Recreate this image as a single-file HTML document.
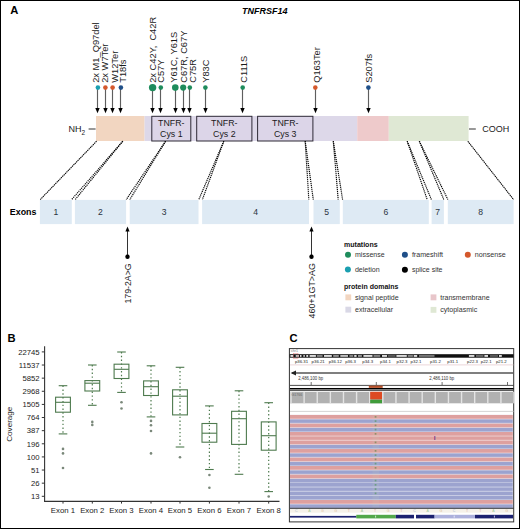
<!DOCTYPE html>
<html><head><meta charset="utf-8"><title>TNFRSF14</title>
<style>
html,body{margin:0;padding:0;background:#fff;}
body{width:520px;height:529px;overflow:hidden;}
svg{display:block;font-family:"Liberation Sans", sans-serif;}
</style></head><body>
<svg width="520" height="529" viewBox="0 0 520 529">
<rect x="0" y="0" width="520" height="529" fill="#fff"/>
<text x="10.3" y="14.2" font-size="11.2" text-anchor="start" font-weight="bold" font-style="normal" fill="#000" >A</text>
<text x="242.0" y="14.3" font-size="9.6" text-anchor="start" font-weight="bold" font-style="italic" fill="#000"  textLength="45.6" lengthAdjust="spacingAndGlyphs">TNFRSF14</text>
<line x1="97.5" y1="87.6" x2="97.5" y2="109" stroke="#5e5e5e" stroke-width="1.15"/>
<path d="M95.3,108 L99.7,108 L97.5,113.3 Z" fill="#000"/>
<circle cx="97.9" cy="87.6" r="2.3" fill="#1a9fb0"/>
<text transform="translate(99.2,82.8) rotate(-90)" font-size="9.3" fill="#1a1a1a" text-anchor="start">2x M1_Q97del</text>
<line x1="105.5" y1="87.6" x2="105.5" y2="109" stroke="#5e5e5e" stroke-width="1.15"/>
<path d="M103.3,108 L107.7,108 L105.5,113.3 Z" fill="#000"/>
<circle cx="105.4" cy="87.6" r="2.3" fill="#d4582c"/>
<text transform="translate(108.4,82.8) rotate(-90)" font-size="9.3" fill="#1a1a1a" text-anchor="start">2x W7Ter</text>
<line x1="112.5" y1="87.6" x2="112.5" y2="109" stroke="#5e5e5e" stroke-width="1.15"/>
<path d="M110.3,108 L114.7,108 L112.5,113.3 Z" fill="#000"/>
<circle cx="112.6" cy="87.6" r="2.3" fill="#d4582c"/>
<text transform="translate(117.6,82.8) rotate(-90)" font-size="9.3" fill="#1a1a1a" text-anchor="start">W12Ter</text>
<line x1="120.5" y1="87.6" x2="120.5" y2="109" stroke="#5e5e5e" stroke-width="1.15"/>
<path d="M118.3,108 L122.7,108 L120.5,113.3 Z" fill="#000"/>
<circle cx="120.9" cy="87.6" r="2.3" fill="#1f4f88"/>
<text transform="translate(126.4,82.8) rotate(-90)" font-size="9.3" fill="#1a1a1a" text-anchor="start">T18fs</text>
<line x1="152.5" y1="87.6" x2="152.5" y2="109" stroke="#5e5e5e" stroke-width="1.15"/>
<path d="M150.3,108 L154.7,108 L152.5,113.3 Z" fill="#000"/>
<circle cx="152.6" cy="87.6" r="3.7" fill="#1e8c5c"/>
<text transform="translate(156.2,82.8) rotate(-90)" font-size="9.3" fill="#1a1a1a" text-anchor="start">2x C42Y,&#160; C42R</text>
<line x1="160.5" y1="87.6" x2="160.5" y2="109" stroke="#5e5e5e" stroke-width="1.15"/>
<path d="M158.3,108 L162.7,108 L160.5,113.3 Z" fill="#000"/>
<circle cx="160.8" cy="87.6" r="2.3" fill="#1e8c5c"/>
<text transform="translate(164.4,82.8) rotate(-90)" font-size="9.3" fill="#1a1a1a" text-anchor="start">C57Y</text>
<line x1="175.5" y1="87.6" x2="175.5" y2="109" stroke="#5e5e5e" stroke-width="1.15"/>
<path d="M173.3,108 L177.7,108 L175.5,113.3 Z" fill="#000"/>
<circle cx="175.3" cy="87.6" r="3.3" fill="#1e8c5c"/>
<text transform="translate(177.4,82.8) rotate(-90)" font-size="9.3" fill="#1a1a1a" text-anchor="start">Y61C, Y61S</text>
<line x1="183.5" y1="87.6" x2="183.5" y2="109" stroke="#5e5e5e" stroke-width="1.15"/>
<path d="M181.3,108 L185.7,108 L183.5,113.3 Z" fill="#000"/>
<circle cx="183.2" cy="87.6" r="3.1" fill="#1e8c5c"/>
<text transform="translate(187.4,82.8) rotate(-90)" font-size="9.3" fill="#1a1a1a" text-anchor="start">C67R, C67Y</text>
<line x1="189.5" y1="87.6" x2="189.5" y2="109" stroke="#5e5e5e" stroke-width="1.15"/>
<path d="M187.3,108 L191.7,108 L189.5,113.3 Z" fill="#000"/>
<circle cx="189.8" cy="87.6" r="2.3" fill="#1e8c5c"/>
<text transform="translate(196.2,82.8) rotate(-90)" font-size="9.3" fill="#1a1a1a" text-anchor="start">C75R</text>
<line x1="205.5" y1="87.6" x2="205.5" y2="109" stroke="#5e5e5e" stroke-width="1.15"/>
<path d="M203.3,108 L207.7,108 L205.5,113.3 Z" fill="#000"/>
<circle cx="205.4" cy="87.6" r="2.3" fill="#1e8c5c"/>
<text transform="translate(208.7,82.8) rotate(-90)" font-size="9.3" fill="#1a1a1a" text-anchor="start">Y83C</text>
<line x1="242.5" y1="87.6" x2="242.5" y2="109" stroke="#5e5e5e" stroke-width="1.15"/>
<path d="M240.3,108 L244.7,108 L242.5,113.3 Z" fill="#000"/>
<circle cx="242.7" cy="87.6" r="2.3" fill="#1e8c5c"/>
<text transform="translate(246.6,82.8) rotate(-90)" font-size="9.3" fill="#1a1a1a" text-anchor="start">C111S</text>
<line x1="315.5" y1="87.6" x2="315.5" y2="109" stroke="#5e5e5e" stroke-width="1.15"/>
<path d="M313.3,108 L317.7,108 L315.5,113.3 Z" fill="#000"/>
<circle cx="315.3" cy="87.6" r="2.3" fill="#d4582c"/>
<text transform="translate(320.2,82.8) rotate(-90)" font-size="9.3" fill="#1a1a1a" text-anchor="start">Q163Ter</text>
<line x1="368.5" y1="87.6" x2="368.5" y2="109" stroke="#5e5e5e" stroke-width="1.15"/>
<path d="M366.3,108 L370.7,108 L368.5,113.3 Z" fill="#000"/>
<circle cx="368.4" cy="87.6" r="2.3" fill="#1f4f88"/>
<text transform="translate(372.2,82.8) rotate(-90)" font-size="9.3" fill="#1a1a1a" text-anchor="start">S207fs</text>
<rect x="96" y="116" width="48.6" height="25" fill="#f2d6c1"/>
<rect x="144.6" y="116" width="212.6" height="25" fill="#ddd8e9"/>
<rect x="357.2" y="116" width="31.6" height="25" fill="#eecacb"/>
<rect x="388.8" y="116" width="79.8" height="25" fill="#dfe8d4"/>
<rect x="151.8" y="116.3" width="39.0" height="24.7" fill="#dcd5e8" stroke="#2e2a36" stroke-width="1.0"/>
<text x="171.3" y="126" font-size="8.8" text-anchor="middle" font-weight="normal" font-style="normal" fill="#1a1a1a" >TNFR-</text>
<text x="171.3" y="137.2" font-size="8.8" text-anchor="middle" font-weight="normal" font-style="normal" fill="#1a1a1a" >Cys 1</text>
<rect x="196.7" y="116.3" width="55.20000000000002" height="24.7" fill="#dcd5e8" stroke="#2e2a36" stroke-width="1.0"/>
<text x="224.3" y="126" font-size="8.8" text-anchor="middle" font-weight="normal" font-style="normal" fill="#1a1a1a" >TNFR-</text>
<text x="224.3" y="137.2" font-size="8.8" text-anchor="middle" font-weight="normal" font-style="normal" fill="#1a1a1a" >Cys 2</text>
<rect x="257.6" y="116.3" width="55.299999999999955" height="24.7" fill="#dcd5e8" stroke="#2e2a36" stroke-width="1.0"/>
<text x="285.25" y="126" font-size="8.8" text-anchor="middle" font-weight="normal" font-style="normal" fill="#1a1a1a" >TNFR-</text>
<text x="285.25" y="137.2" font-size="8.8" text-anchor="middle" font-weight="normal" font-style="normal" fill="#1a1a1a" >Cys 3</text>
<text x="68.5" y="132.3" font-size="9.0" text-anchor="start" font-weight="normal" font-style="normal" fill="#1a1a1a" >NH<tspan font-size="6.5" dy="2.5">2</tspan></text>
<line x1="88.6" y1="129" x2="95.6" y2="129" stroke="#444" stroke-width="1.1"/>
<line x1="469" y1="129" x2="475.8" y2="129" stroke="#444" stroke-width="1.1"/>
<text x="482.3" y="132.3" font-size="9.0" text-anchor="start" font-weight="normal" font-style="normal" fill="#1a1a1a" >COOH</text>
<line x1="96.6" y1="141.2" x2="40.2" y2="199.6" stroke="#000" stroke-width="1.05" stroke-dasharray="1.4,0.6"/>
<line x1="122.8" y1="141.2" x2="71.6" y2="199.6" stroke="#000" stroke-width="1.15" stroke-dasharray="1.2,0.8"/>
<line x1="122.8" y1="141.2" x2="75.2" y2="199.6" stroke="#000" stroke-width="1.15" stroke-dasharray="1.2,0.8"/>
<line x1="165.6" y1="141.2" x2="126.2" y2="199.6" stroke="#000" stroke-width="1.15" stroke-dasharray="1.2,0.8"/>
<line x1="165.6" y1="141.2" x2="129.8" y2="199.6" stroke="#000" stroke-width="1.15" stroke-dasharray="1.2,0.8"/>
<line x1="223.8" y1="141.2" x2="198.8" y2="199.6" stroke="#000" stroke-width="1.15" stroke-dasharray="1.2,0.8"/>
<line x1="223.8" y1="141.2" x2="202.4" y2="199.6" stroke="#000" stroke-width="1.15" stroke-dasharray="1.2,0.8"/>
<line x1="305.2" y1="141.2" x2="308.8" y2="199.6" stroke="#000" stroke-width="1.15" stroke-dasharray="1.2,0.8"/>
<line x1="305.2" y1="141.2" x2="313.3" y2="199.6" stroke="#000" stroke-width="1.15" stroke-dasharray="1.2,0.8"/>
<line x1="333.3" y1="141.2" x2="338.2" y2="199.6" stroke="#000" stroke-width="1.15" stroke-dasharray="1.2,0.8"/>
<line x1="333.3" y1="141.2" x2="342.6" y2="199.6" stroke="#000" stroke-width="1.15" stroke-dasharray="1.2,0.8"/>
<line x1="407.2" y1="141.2" x2="427.2" y2="199.6" stroke="#000" stroke-width="1.15" stroke-dasharray="1.2,0.8"/>
<line x1="407.2" y1="141.2" x2="431.4" y2="199.6" stroke="#000" stroke-width="1.15" stroke-dasharray="1.2,0.8"/>
<line x1="419.3" y1="141.2" x2="443.8" y2="199.6" stroke="#000" stroke-width="1.15" stroke-dasharray="1.2,0.8"/>
<line x1="419.3" y1="141.2" x2="447.9" y2="199.6" stroke="#000" stroke-width="1.15" stroke-dasharray="1.2,0.8"/>
<line x1="467.8" y1="141.2" x2="513.6" y2="199.6" stroke="#000" stroke-width="1.05" stroke-dasharray="1.4,0.6"/>
<rect x="39.9" y="199.9" width="31.9" height="24.2" fill="#deeaf4"/>
<text x="55.849999999999994" y="215.3" font-size="8.6" text-anchor="middle" font-weight="normal" font-style="normal" fill="#2a3340" >1</text>
<rect x="74.9" y="199.9" width="51.19999999999999" height="24.2" fill="#deeaf4"/>
<text x="100.5" y="215.3" font-size="8.6" text-anchor="middle" font-weight="normal" font-style="normal" fill="#2a3340" >2</text>
<rect x="129.7" y="199.9" width="68.80000000000001" height="24.2" fill="#deeaf4"/>
<text x="164.1" y="215.3" font-size="8.6" text-anchor="middle" font-weight="normal" font-style="normal" fill="#2a3340" >3</text>
<rect x="202.1" y="199.9" width="106.9" height="24.2" fill="#deeaf4"/>
<text x="255.55" y="215.3" font-size="8.6" text-anchor="middle" font-weight="normal" font-style="normal" fill="#2a3340" >4</text>
<rect x="313.5" y="199.9" width="26.30000000000001" height="24.2" fill="#deeaf4"/>
<text x="326.65" y="215.3" font-size="8.6" text-anchor="middle" font-weight="normal" font-style="normal" fill="#2a3340" >5</text>
<rect x="342.8" y="199.9" width="86.0" height="24.2" fill="#deeaf4"/>
<text x="385.8" y="215.3" font-size="8.6" text-anchor="middle" font-weight="normal" font-style="normal" fill="#2a3340" >6</text>
<rect x="431.6" y="199.9" width="12.299999999999955" height="24.2" fill="#deeaf4"/>
<text x="437.75" y="215.3" font-size="8.6" text-anchor="middle" font-weight="normal" font-style="normal" fill="#2a3340" >7</text>
<rect x="447.8" y="199.9" width="65.80000000000001" height="24.2" fill="#deeaf4"/>
<text x="480.70000000000005" y="215.3" font-size="8.6" text-anchor="middle" font-weight="normal" font-style="normal" fill="#2a3340" >8</text>
<text x="9.8" y="214.9" font-size="9.4" text-anchor="start" font-weight="bold" font-style="normal" fill="#000"  textLength="26.6" lengthAdjust="spacingAndGlyphs">Exons</text>
<line x1="127.5" y1="231" x2="127.5" y2="256.8" stroke="#333" stroke-width="1"/>
<path d="M125.4,231.6 L129.6,231.6 L127.5,226.5 Z" fill="#000"/>
<circle cx="127.5" cy="256.8" r="2.2" fill="#000"/>
<text transform="translate(130.7,303.6) rotate(-90)" font-size="8.7" fill="#1a1a1a" text-anchor="start" textLength="40.2" lengthAdjust="spacingAndGlyphs">179-2A&gt;G</text>
<line x1="311.5" y1="231" x2="311.5" y2="256.8" stroke="#333" stroke-width="1"/>
<path d="M309.4,231.6 L313.6,231.6 L311.5,226.5 Z" fill="#000"/>
<circle cx="311.5" cy="256.8" r="2.2" fill="#000"/>
<text transform="translate(314.7,318.5) rotate(-90)" font-size="8.7" fill="#1a1a1a" text-anchor="start" textLength="55.4" lengthAdjust="spacingAndGlyphs">460+1GT&gt;AG</text>
<text x="344.0" y="246.6" font-size="7.3" text-anchor="start" font-weight="bold" font-style="normal" fill="#111"  textLength="33.6" lengthAdjust="spacingAndGlyphs">mutations</text>
<circle cx="348" cy="254.7" r="3.0" fill="#1e8c5c"/>
<text x="355.0" y="257.3" font-size="7.4" text-anchor="start" font-weight="normal" font-style="normal" fill="#333"  textLength="29.6" lengthAdjust="spacingAndGlyphs">missense</text>
<circle cx="404.9" cy="254.7" r="3.0" fill="#1f4f88"/>
<text x="411.9" y="257.3" font-size="7.4" text-anchor="start" font-weight="normal" font-style="normal" fill="#333"  textLength="31.2" lengthAdjust="spacingAndGlyphs">frameshift</text>
<circle cx="467.8" cy="254.7" r="3.0" fill="#d4582c"/>
<text x="474.8" y="257.3" font-size="7.4" text-anchor="start" font-weight="normal" font-style="normal" fill="#333"  textLength="31.0" lengthAdjust="spacingAndGlyphs">nonsense</text>
<circle cx="347.9" cy="269.6" r="3.0" fill="#1a9fb0"/>
<text x="354.9" y="272.20000000000005" font-size="7.4" text-anchor="start" font-weight="normal" font-style="normal" fill="#333"  textLength="24.8" lengthAdjust="spacingAndGlyphs">deletion</text>
<circle cx="404.9" cy="269.7" r="3.0" fill="#000"/>
<text x="411.9" y="272.3" font-size="7.4" text-anchor="start" font-weight="normal" font-style="normal" fill="#333"  textLength="30.6" lengthAdjust="spacingAndGlyphs">splice site</text>
<text x="344.0" y="288.8" font-size="7.3" text-anchor="start" font-weight="bold" font-style="normal" fill="#111"  textLength="54.4" lengthAdjust="spacingAndGlyphs">protein domains</text>
<rect x="345.4" y="294.4" width="5.8" height="5.9" fill="#f2d6c1"/>
<text x="355.0" y="299.79999999999995" font-size="7.4" text-anchor="start" font-weight="normal" font-style="normal" fill="#333"  textLength="43.6" lengthAdjust="spacingAndGlyphs">signal peptide</text>
<rect x="345.4" y="306.7" width="5.8" height="5.9" fill="#d9d8e6"/>
<text x="355.0" y="312.09999999999997" font-size="7.4" text-anchor="start" font-weight="normal" font-style="normal" fill="#333"  textLength="38.0" lengthAdjust="spacingAndGlyphs">extracellular</text>
<rect x="430.6" y="294.4" width="5.8" height="5.9" fill="#e8c6ca"/>
<text x="440.20000000000005" y="299.79999999999995" font-size="7.4" text-anchor="start" font-weight="normal" font-style="normal" fill="#333"  textLength="49.4" lengthAdjust="spacingAndGlyphs">transmembrane</text>
<rect x="430.6" y="306.9" width="5.8" height="5.9" fill="#dfe8d4"/>
<text x="440.20000000000005" y="312.29999999999995" font-size="7.4" text-anchor="start" font-weight="normal" font-style="normal" fill="#333"  textLength="37.0" lengthAdjust="spacingAndGlyphs">cytoplasmic</text>
<text x="7.6" y="342.2" font-size="11.2" text-anchor="start" font-weight="bold" font-style="normal" fill="#000" >B</text>
<line x1="44.6" y1="346.2" x2="44.6" y2="501.9" stroke="#333" stroke-width="1.1"/>
<line x1="44.1" y1="501.4" x2="279.5" y2="501.4" stroke="#333" stroke-width="1.1"/>
<line x1="41.8" y1="351.90" x2="44.6" y2="351.90" stroke="#333" stroke-width="1"/>
<text x="39.6" y="354.7" font-size="7.7" text-anchor="end" font-weight="normal" font-style="normal" fill="#222" >22745</text>
<line x1="41.8" y1="365.03" x2="44.6" y2="365.03" stroke="#333" stroke-width="1"/>
<text x="39.6" y="367.827" font-size="7.7" text-anchor="end" font-weight="normal" font-style="normal" fill="#222" >11537</text>
<line x1="41.8" y1="378.15" x2="44.6" y2="378.15" stroke="#333" stroke-width="1"/>
<text x="39.6" y="380.954" font-size="7.7" text-anchor="end" font-weight="normal" font-style="normal" fill="#222" >5852</text>
<line x1="41.8" y1="391.28" x2="44.6" y2="391.28" stroke="#333" stroke-width="1"/>
<text x="39.6" y="394.08099999999996" font-size="7.7" text-anchor="end" font-weight="normal" font-style="normal" fill="#222" >2968</text>
<line x1="41.8" y1="404.41" x2="44.6" y2="404.41" stroke="#333" stroke-width="1"/>
<text x="39.6" y="407.20799999999997" font-size="7.7" text-anchor="end" font-weight="normal" font-style="normal" fill="#222" >1505</text>
<line x1="41.8" y1="417.53" x2="44.6" y2="417.53" stroke="#333" stroke-width="1"/>
<text x="39.6" y="420.335" font-size="7.7" text-anchor="end" font-weight="normal" font-style="normal" fill="#222" >764</text>
<line x1="41.8" y1="430.66" x2="44.6" y2="430.66" stroke="#333" stroke-width="1"/>
<text x="39.6" y="433.462" font-size="7.7" text-anchor="end" font-weight="normal" font-style="normal" fill="#222" >387</text>
<line x1="41.8" y1="443.79" x2="44.6" y2="443.79" stroke="#333" stroke-width="1"/>
<text x="39.6" y="446.589" font-size="7.7" text-anchor="end" font-weight="normal" font-style="normal" fill="#222" >196</text>
<line x1="41.8" y1="456.92" x2="44.6" y2="456.92" stroke="#333" stroke-width="1"/>
<text x="39.6" y="459.716" font-size="7.7" text-anchor="end" font-weight="normal" font-style="normal" fill="#222" >100</text>
<line x1="41.8" y1="470.04" x2="44.6" y2="470.04" stroke="#333" stroke-width="1"/>
<text x="39.6" y="472.843" font-size="7.7" text-anchor="end" font-weight="normal" font-style="normal" fill="#222" >51</text>
<line x1="41.8" y1="483.17" x2="44.6" y2="483.17" stroke="#333" stroke-width="1"/>
<text x="39.6" y="485.96999999999997" font-size="7.7" text-anchor="end" font-weight="normal" font-style="normal" fill="#222" >26</text>
<line x1="41.8" y1="496.30" x2="44.6" y2="496.30" stroke="#333" stroke-width="1"/>
<text x="39.6" y="499.09700000000004" font-size="7.7" text-anchor="end" font-weight="normal" font-style="normal" fill="#222" >13</text>
<text transform="translate(12.4,424.2) rotate(-90)" font-size="8.1" fill="#222" text-anchor="middle">Coverage</text>
<line x1="63.0" y1="385.7" x2="63.0" y2="433.9" stroke="#4e7a4e" stroke-width="1.2" stroke-dasharray="1.4,2.4"/>
<line x1="58.7" y1="385.7" x2="67.3" y2="385.7" stroke="#4e7a4e" stroke-width="1.1"/>
<line x1="58.7" y1="433.9" x2="67.3" y2="433.9" stroke="#4e7a4e" stroke-width="1.1"/>
<rect x="55.6" y="397.2" width="14.8" height="15.0" fill="none" stroke="#4e7a4e" stroke-width="1.1"/>
<line x1="55.6" y1="402.3" x2="70.4" y2="402.3" stroke="#4e7a4e" stroke-width="1.1"/>
<circle cx="63.0" cy="448.9" r="1.3" fill="#7a887a"/>
<circle cx="63.0" cy="453.4" r="1.3" fill="#7a887a"/>
<circle cx="63.0" cy="468.0" r="1.3" fill="#7a887a"/>
<line x1="63.0" y1="501.4" x2="63.0" y2="503.6" stroke="#333" stroke-width="1"/>
<text x="63.0" y="513.0" font-size="7.8" text-anchor="middle" font-weight="normal" font-style="normal" fill="#222" >Exon 1</text>
<line x1="92.3" y1="365.0" x2="92.3" y2="405.3" stroke="#4e7a4e" stroke-width="1.2" stroke-dasharray="1.4,2.4"/>
<line x1="88.0" y1="365.0" x2="96.6" y2="365.0" stroke="#4e7a4e" stroke-width="1.1"/>
<line x1="88.0" y1="405.3" x2="96.6" y2="405.3" stroke="#4e7a4e" stroke-width="1.1"/>
<rect x="84.89999999999999" y="380.6" width="14.8" height="10.399999999999977" fill="none" stroke="#4e7a4e" stroke-width="1.1"/>
<line x1="84.89999999999999" y1="383.2" x2="99.7" y2="383.2" stroke="#4e7a4e" stroke-width="1.1"/>
<circle cx="92.3" cy="421.9" r="1.3" fill="#7a887a"/>
<circle cx="92.3" cy="424.9" r="1.3" fill="#7a887a"/>
<line x1="92.3" y1="501.4" x2="92.3" y2="503.6" stroke="#333" stroke-width="1"/>
<text x="92.3" y="513.0" font-size="7.8" text-anchor="middle" font-weight="normal" font-style="normal" fill="#222" >Exon 2</text>
<line x1="121.5" y1="352.0" x2="121.5" y2="392.4" stroke="#4e7a4e" stroke-width="1.2" stroke-dasharray="1.4,2.4"/>
<line x1="117.2" y1="352.0" x2="125.8" y2="352.0" stroke="#4e7a4e" stroke-width="1.1"/>
<line x1="117.2" y1="392.4" x2="125.8" y2="392.4" stroke="#4e7a4e" stroke-width="1.1"/>
<rect x="114.1" y="364.2" width="14.8" height="14.300000000000011" fill="none" stroke="#4e7a4e" stroke-width="1.1"/>
<line x1="114.1" y1="369.3" x2="128.9" y2="369.3" stroke="#4e7a4e" stroke-width="1.1"/>
<circle cx="121.5" cy="402.3" r="1.3" fill="#7a887a"/>
<circle cx="121.5" cy="408.5" r="1.3" fill="#7a887a"/>
<line x1="121.5" y1="501.4" x2="121.5" y2="503.6" stroke="#333" stroke-width="1"/>
<text x="121.5" y="513.0" font-size="7.8" text-anchor="middle" font-weight="normal" font-style="normal" fill="#222" >Exon 3</text>
<line x1="151.0" y1="365.8" x2="151.0" y2="416.9" stroke="#4e7a4e" stroke-width="1.2" stroke-dasharray="1.4,2.4"/>
<line x1="146.7" y1="365.8" x2="155.3" y2="365.8" stroke="#4e7a4e" stroke-width="1.1"/>
<line x1="146.7" y1="416.9" x2="155.3" y2="416.9" stroke="#4e7a4e" stroke-width="1.1"/>
<rect x="143.6" y="380.9" width="14.8" height="14.600000000000023" fill="none" stroke="#4e7a4e" stroke-width="1.1"/>
<line x1="143.6" y1="386.7" x2="158.4" y2="386.7" stroke="#4e7a4e" stroke-width="1.1"/>
<circle cx="151.0" cy="420.9" r="1.3" fill="#7a887a"/>
<circle cx="151.0" cy="425.3" r="1.3" fill="#7a887a"/>
<circle cx="151.0" cy="431.0" r="1.3" fill="#7a887a"/>
<circle cx="151.0" cy="453.4" r="1.3" fill="#7a887a"/>
<line x1="151.0" y1="501.4" x2="151.0" y2="503.6" stroke="#333" stroke-width="1"/>
<text x="151.0" y="513.0" font-size="7.8" text-anchor="middle" font-weight="normal" font-style="normal" fill="#222" >Exon 4</text>
<line x1="180.0" y1="367.3" x2="180.0" y2="447.0" stroke="#4e7a4e" stroke-width="1.2" stroke-dasharray="1.4,2.4"/>
<line x1="175.7" y1="367.3" x2="184.3" y2="367.3" stroke="#4e7a4e" stroke-width="1.1"/>
<line x1="175.7" y1="447.0" x2="184.3" y2="447.0" stroke="#4e7a4e" stroke-width="1.1"/>
<rect x="172.6" y="389.8" width="14.8" height="25.099999999999966" fill="none" stroke="#4e7a4e" stroke-width="1.1"/>
<line x1="172.6" y1="396.2" x2="187.4" y2="396.2" stroke="#4e7a4e" stroke-width="1.1"/>
<circle cx="180.0" cy="457.3" r="1.3" fill="#7a887a"/>
<line x1="180.0" y1="501.4" x2="180.0" y2="503.6" stroke="#333" stroke-width="1"/>
<text x="180.0" y="513.0" font-size="7.8" text-anchor="middle" font-weight="normal" font-style="normal" fill="#222" >Exon 5</text>
<line x1="209.4" y1="405.9" x2="209.4" y2="469.5" stroke="#4e7a4e" stroke-width="1.2" stroke-dasharray="1.4,2.4"/>
<line x1="205.1" y1="405.9" x2="213.70000000000002" y2="405.9" stroke="#4e7a4e" stroke-width="1.1"/>
<line x1="205.1" y1="469.5" x2="213.70000000000002" y2="469.5" stroke="#4e7a4e" stroke-width="1.1"/>
<rect x="202.0" y="423.5" width="14.8" height="18.69999999999999" fill="none" stroke="#4e7a4e" stroke-width="1.1"/>
<line x1="202.0" y1="433.2" x2="216.8" y2="433.2" stroke="#4e7a4e" stroke-width="1.1"/>
<circle cx="209.4" cy="475.0" r="1.3" fill="#7a887a"/>
<circle cx="209.4" cy="487.8" r="1.3" fill="#7a887a"/>
<line x1="209.4" y1="501.4" x2="209.4" y2="503.6" stroke="#333" stroke-width="1"/>
<text x="209.4" y="513.0" font-size="7.8" text-anchor="middle" font-weight="normal" font-style="normal" fill="#222" >Exon 6</text>
<line x1="239.0" y1="390.8" x2="239.0" y2="474.3" stroke="#4e7a4e" stroke-width="1.2" stroke-dasharray="1.4,2.4"/>
<line x1="234.7" y1="390.8" x2="243.3" y2="390.8" stroke="#4e7a4e" stroke-width="1.1"/>
<line x1="234.7" y1="474.3" x2="243.3" y2="474.3" stroke="#4e7a4e" stroke-width="1.1"/>
<rect x="231.6" y="411.3" width="14.8" height="33.099999999999966" fill="none" stroke="#4e7a4e" stroke-width="1.1"/>
<line x1="231.6" y1="418.7" x2="246.4" y2="418.7" stroke="#4e7a4e" stroke-width="1.1"/>
<line x1="239.0" y1="501.4" x2="239.0" y2="503.6" stroke="#333" stroke-width="1"/>
<text x="239.0" y="513.0" font-size="7.8" text-anchor="middle" font-weight="normal" font-style="normal" fill="#222" >Exon 7</text>
<line x1="268.7" y1="402.7" x2="268.7" y2="491.6" stroke="#4e7a4e" stroke-width="1.2" stroke-dasharray="1.4,2.4"/>
<line x1="264.4" y1="402.7" x2="273.0" y2="402.7" stroke="#4e7a4e" stroke-width="1.1"/>
<line x1="264.4" y1="491.6" x2="273.0" y2="491.6" stroke="#4e7a4e" stroke-width="1.1"/>
<rect x="261.3" y="421.9" width="14.8" height="28.30000000000001" fill="none" stroke="#4e7a4e" stroke-width="1.1"/>
<line x1="261.3" y1="435.7" x2="276.09999999999997" y2="435.7" stroke="#4e7a4e" stroke-width="1.1"/>
<circle cx="268.7" cy="496.5" r="1.3" fill="#7a887a"/>
<line x1="268.7" y1="501.4" x2="268.7" y2="503.6" stroke="#333" stroke-width="1"/>
<text x="268.7" y="513.0" font-size="7.8" text-anchor="middle" font-weight="normal" font-style="normal" fill="#222" >Exon 8</text>
<text x="289.4" y="342.2" font-size="11.2" text-anchor="start" font-weight="bold" font-style="normal" fill="#000" >C</text>
<rect x="289.4" y="348.6" width="224.3" height="173.3" fill="#fff" stroke="#333" stroke-width="1"/>
<text x="291" y="352" font-size="3.6" text-anchor="start" font-weight="normal" font-style="normal" fill="#777" >chr1</text>
<rect x="289.6" y="354.2" width="224" height="3.5" fill="#111"/>
<rect x="290.4" y="355.15" width="2.90" height="1.6" fill="#fff"/>
<rect x="295.7" y="355.15" width="3.30" height="1.6" fill="#ddd"/>
<rect x="300" y="355.15" width="1.50" height="1.6" fill="#fff"/>
<rect x="303.4" y="355.15" width="1.40" height="1.6" fill="#fff"/>
<rect x="306.3" y="355.15" width="1.90" height="1.6" fill="#fff"/>
<rect x="309.6" y="355.15" width="6.30" height="1.6" fill="#fff"/>
<rect x="316.8" y="355.15" width="5.80" height="1.6" fill="#999"/>
<rect x="324" y="355.15" width="7.80" height="1.6" fill="#fff"/>
<rect x="333.2" y="355.15" width="5.60" height="1.6" fill="#aaa"/>
<rect x="340.3" y="355.15" width="7.70" height="1.6" fill="#ddd"/>
<rect x="349.4" y="355.15" width="3.90" height="1.6" fill="#999"/>
<rect x="354.2" y="355.15" width="2.40" height="1.6" fill="#fff"/>
<rect x="358" y="355.15" width="3.90" height="1.6" fill="#aaa"/>
<rect x="363.4" y="355.15" width="9.10" height="1.6" fill="#fff"/>
<rect x="373.5" y="355.15" width="6.70" height="1.6" fill="#999"/>
<rect x="382" y="355.15" width="5.00" height="1.6" fill="#fff"/>
<rect x="387.8" y="355.15" width="7.80" height="1.6" fill="#666"/>
<rect x="396.4" y="355.15" width="10.40" height="1.6" fill="#fff"/>
<rect x="407.7" y="355.15" width="5.20" height="1.6" fill="#999"/>
<rect x="413.7" y="355.15" width="3.50" height="1.6" fill="#fff"/>
<rect x="419" y="355.15" width="15.50" height="1.6" fill="#888"/>
<rect x="468.9" y="355.15" width="5.50" height="1.6" fill="#fff"/>
<rect x="476" y="355.15" width="7.50" height="1.6" fill="#777"/>
<rect x="484.4" y="355.15" width="3.60" height="1.6" fill="#fff"/>
<rect x="490" y="355.15" width="8.00" height="1.6" fill="#666"/>
<rect x="499" y="355.15" width="2.80" height="1.6" fill="#fff"/>
<rect x="293.4" y="353.4" width="4.6" height="5.2" fill="none" stroke="#d44" stroke-width="0.6" opacity="0.55"/>
<text x="301.5" y="363.3" font-size="4.3" text-anchor="middle" font-weight="normal" font-style="normal" fill="#222" >p36.31</text>
<text x="318.2" y="363.3" font-size="4.3" text-anchor="middle" font-weight="normal" font-style="normal" fill="#222" >p36.21</text>
<text x="335.3" y="363.3" font-size="4.3" text-anchor="middle" font-weight="normal" font-style="normal" fill="#222" >p36.12</text>
<text x="350.6" y="363.3" font-size="4.3" text-anchor="middle" font-weight="normal" font-style="normal" fill="#222" >p36.3</text>
<text x="367.7" y="363.3" font-size="4.3" text-anchor="middle" font-weight="normal" font-style="normal" fill="#222" >p34.3</text>
<text x="385.4" y="363.3" font-size="4.3" text-anchor="middle" font-weight="normal" font-style="normal" fill="#222" >p34.1</text>
<text x="402" y="363.3" font-size="4.3" text-anchor="middle" font-weight="normal" font-style="normal" fill="#222" >p32.3</text>
<text x="416" y="363.3" font-size="4.3" text-anchor="middle" font-weight="normal" font-style="normal" fill="#222" >p32.1</text>
<text x="435.4" y="363.3" font-size="4.3" text-anchor="middle" font-weight="normal" font-style="normal" fill="#222" >p31.2</text>
<text x="452.7" y="363.3" font-size="4.3" text-anchor="middle" font-weight="normal" font-style="normal" fill="#222" >p31.1</text>
<text x="472.5" y="363.3" font-size="4.3" text-anchor="middle" font-weight="normal" font-style="normal" fill="#222" >p22.3</text>
<text x="486.2" y="363.3" font-size="4.3" text-anchor="middle" font-weight="normal" font-style="normal" fill="#222" >p22.1</text>
<text x="501.3" y="363.3" font-size="4.3" text-anchor="middle" font-weight="normal" font-style="normal" fill="#222" >p21.2</text>
<line x1="290" y1="364.9" x2="513.5" y2="364.9" stroke="#e2c4c8" stroke-width="0.7"/>
<line x1="292" y1="373" x2="513" y2="373" stroke="#555" stroke-width="1.6"/>
<path d="M290.6,373 L296,370.6 L296,375.4 Z" fill="#222"/>
<text x="298.2" y="379.8" font-size="4.5" text-anchor="start" font-weight="normal" font-style="normal" fill="#333"  textLength="25" lengthAdjust="spacingAndGlyphs">2,486,100 bp</text>
<text x="429.3" y="379.8" font-size="4.5" text-anchor="start" font-weight="normal" font-style="normal" fill="#333"  textLength="25" lengthAdjust="spacingAndGlyphs">2,486,110 bp</text>
<line x1="311.2" y1="382" x2="311.2" y2="385" stroke="#333" stroke-width="0.7"/>
<line x1="376.3" y1="382" x2="376.3" y2="385" stroke="#333" stroke-width="0.7"/>
<line x1="442.1" y1="382" x2="442.1" y2="385" stroke="#333" stroke-width="0.7"/>
<line x1="507.5" y1="382" x2="507.5" y2="385" stroke="#333" stroke-width="0.7"/>
<line x1="290" y1="385.4" x2="513.5" y2="385.4" stroke="#222" stroke-width="0.8"/>
<rect x="368.8" y="385.6" width="13.9" height="2.3" fill="#b5502a"/>
<rect x="290" y="388" width="223.6" height="1.5" fill="#000"/>
<rect x="290" y="390.2" width="223.6" height="0.8" fill="#333"/>
<rect x="290" y="391.8" width="223.6" height="11.5" fill="#b1b1b1"/>
<rect x="290.30" y="391.8" width="1.4" height="11.5" fill="#e4e4e4"/>
<rect x="303.42" y="391.8" width="1.4" height="11.5" fill="#e4e4e4"/>
<rect x="316.54" y="391.8" width="1.4" height="11.5" fill="#e4e4e4"/>
<rect x="329.66" y="391.8" width="1.4" height="11.5" fill="#e4e4e4"/>
<rect x="342.78" y="391.8" width="1.4" height="11.5" fill="#e4e4e4"/>
<rect x="355.90" y="391.8" width="1.4" height="11.5" fill="#e4e4e4"/>
<rect x="369.02" y="391.8" width="1.4" height="11.5" fill="#e4e4e4"/>
<rect x="382.14" y="391.8" width="1.4" height="11.5" fill="#e4e4e4"/>
<rect x="395.26" y="391.8" width="1.4" height="11.5" fill="#e4e4e4"/>
<rect x="408.38" y="391.8" width="1.4" height="11.5" fill="#e4e4e4"/>
<rect x="421.50" y="391.8" width="1.4" height="11.5" fill="#e4e4e4"/>
<rect x="434.62" y="391.8" width="1.4" height="11.5" fill="#e4e4e4"/>
<rect x="447.74" y="391.8" width="1.4" height="11.5" fill="#e4e4e4"/>
<rect x="460.86" y="391.8" width="1.4" height="11.5" fill="#e4e4e4"/>
<rect x="473.98" y="391.8" width="1.4" height="11.5" fill="#e4e4e4"/>
<rect x="487.10" y="391.8" width="1.4" height="11.5" fill="#e4e4e4"/>
<rect x="500.22" y="391.8" width="1.4" height="11.5" fill="#e4e4e4"/>
<rect x="513.34" y="391.8" width="1.4" height="11.5" fill="#e4e4e4"/>
<rect x="370.2" y="391.8" width="11.8" height="7.6" fill="#dd4a22"/>
<rect x="370.2" y="399.8" width="11.8" height="3.5" fill="#3f9c3a"/>
<text x="291.5" y="396.2" font-size="3.6" text-anchor="start" font-weight="normal" font-style="normal" fill="#666" >G1766</text>
<line x1="290" y1="411.4" x2="513.5" y2="411.4" stroke="#cfcfcf" stroke-width="0.9"/>
<rect x="290" y="414.6" width="222.8" height="0.5" fill="#f0e4ea"/>
<rect x="290" y="415.00" width="222.8" height="4.25" fill="#dea09f"/>
<rect x="290" y="419.25" width="222.8" height="4.25" fill="#9ca3cf"/>
<rect x="290" y="423.50" width="222.8" height="4.25" fill="#dea09f"/>
<rect x="290" y="427.75" width="222.8" height="4.25" fill="#9ca3cf"/>
<rect x="290" y="432.00" width="222.8" height="4.25" fill="#dea09f"/>
<rect x="290" y="436.25" width="222.8" height="4.25" fill="#dea09f"/>
<rect x="290" y="440.50" width="222.8" height="4.25" fill="#dea09f"/>
<rect x="290" y="444.75" width="222.8" height="4.25" fill="#9ca3cf"/>
<rect x="290" y="449.00" width="222.8" height="4.25" fill="#dea09f"/>
<rect x="290" y="453.25" width="222.8" height="4.25" fill="#9ca3cf"/>
<rect x="290" y="457.50" width="222.8" height="4.25" fill="#dea09f"/>
<rect x="290" y="461.75" width="222.8" height="4.25" fill="#9ca3cf"/>
<rect x="290" y="466.00" width="222.8" height="4.25" fill="#dea09f"/>
<rect x="290" y="470.25" width="222.8" height="4.25" fill="#9ca3cf"/>
<rect x="290" y="474.50" width="222.8" height="4.25" fill="#dea09f"/>
<rect x="290" y="478.75" width="222.8" height="4.25" fill="#9ca3cf"/>
<rect x="290" y="483.00" width="222.8" height="4.25" fill="#9ca3cf"/>
<rect x="290" y="487.25" width="222.8" height="4.25" fill="#9ca3cf"/>
<rect x="290" y="491.50" width="222.8" height="4.25" fill="#9ca3cf"/>
<rect x="290" y="495.75" width="222.8" height="4.25" fill="#9ca3cf"/>
<rect x="290" y="500.00" width="222.8" height="4.25" fill="#dea09f"/>
<rect x="290" y="504.25" width="222.8" height="4.25" fill="#9ca3cf"/>
<rect x="290" y="418.50" width="222.8" height="0.75" fill="#fff" opacity="0.42"/>
<rect x="290" y="422.75" width="222.8" height="0.75" fill="#fff" opacity="0.42"/>
<rect x="290" y="427.00" width="222.8" height="0.75" fill="#fff" opacity="0.42"/>
<rect x="290" y="431.25" width="222.8" height="0.75" fill="#fff" opacity="0.42"/>
<rect x="290" y="435.50" width="222.8" height="0.75" fill="#fff" opacity="0.42"/>
<rect x="290" y="439.75" width="222.8" height="0.75" fill="#fff" opacity="0.42"/>
<rect x="290" y="444.00" width="222.8" height="0.75" fill="#fff" opacity="0.42"/>
<rect x="290" y="448.25" width="222.8" height="0.75" fill="#fff" opacity="0.42"/>
<rect x="290" y="452.50" width="222.8" height="0.75" fill="#fff" opacity="0.42"/>
<rect x="290" y="456.75" width="222.8" height="0.75" fill="#fff" opacity="0.42"/>
<rect x="290" y="461.00" width="222.8" height="0.75" fill="#fff" opacity="0.42"/>
<rect x="290" y="465.25" width="222.8" height="0.75" fill="#fff" opacity="0.42"/>
<rect x="290" y="469.50" width="222.8" height="0.75" fill="#fff" opacity="0.42"/>
<rect x="290" y="473.75" width="222.8" height="0.75" fill="#fff" opacity="0.42"/>
<rect x="290" y="478.00" width="222.8" height="0.75" fill="#fff" opacity="0.42"/>
<rect x="290" y="482.25" width="222.8" height="0.75" fill="#fff" opacity="0.42"/>
<rect x="290" y="486.50" width="222.8" height="0.75" fill="#fff" opacity="0.42"/>
<rect x="290" y="490.75" width="222.8" height="0.75" fill="#fff" opacity="0.42"/>
<rect x="290" y="495.00" width="222.8" height="0.75" fill="#fff" opacity="0.42"/>
<rect x="290" y="499.25" width="222.8" height="0.75" fill="#fff" opacity="0.42"/>
<rect x="290" y="503.50" width="222.8" height="0.75" fill="#fff" opacity="0.42"/>
<rect x="290" y="507.75" width="222.8" height="0.7" fill="#fff" opacity="0.42"/>
<rect x="372.5" y="414.6" width="6.5" height="93" fill="#c8d8c0" opacity="0.12"/>
<rect x="374.7" y="416.00" width="1.7" height="1.7" fill="#7f8a5c" opacity="0.8"/>
<rect x="374.7" y="420.25" width="1.7" height="1.7" fill="#5f9a74" opacity="0.8"/>
<rect x="374.7" y="424.50" width="1.7" height="1.7" fill="#7f8a5c" opacity="0.8"/>
<rect x="374.7" y="428.75" width="1.7" height="1.7" fill="#5f9a74" opacity="0.8"/>
<rect x="374.7" y="433.00" width="1.7" height="1.7" fill="#7f8a5c" opacity="0.8"/>
<rect x="374.7" y="441.50" width="1.7" height="1.7" fill="#7f8a5c" opacity="0.8"/>
<rect x="374.7" y="450.00" width="1.7" height="1.7" fill="#7f8a5c" opacity="0.8"/>
<rect x="374.7" y="454.25" width="1.7" height="1.7" fill="#5f9a74" opacity="0.8"/>
<rect x="374.7" y="458.50" width="1.7" height="1.7" fill="#7f8a5c" opacity="0.8"/>
<rect x="374.7" y="462.75" width="1.7" height="1.7" fill="#5f9a74" opacity="0.8"/>
<rect x="374.7" y="467.00" width="1.7" height="1.7" fill="#7f8a5c" opacity="0.8"/>
<rect x="374.7" y="479.75" width="1.7" height="1.7" fill="#5f9a74" opacity="0.8"/>
<rect x="374.7" y="484.00" width="1.7" height="1.7" fill="#5f9a74" opacity="0.8"/>
<rect x="374.7" y="488.25" width="1.7" height="1.7" fill="#5f9a74" opacity="0.8"/>
<rect x="374.7" y="492.50" width="1.7" height="1.7" fill="#5f9a74" opacity="0.8"/>
<text x="433.9" y="440.2" font-size="5.2" text-anchor="start" font-weight="bold" font-style="normal" fill="#5a1f80" >I</text>
<line x1="290" y1="508.3" x2="513.5" y2="508.3" stroke="#111" stroke-width="0.9"/>
<rect x="290" y="508.9" width="223" height="3.8" fill="#f6f2ea"/>
<text x="296.2" y="512.4" font-size="3.6" text-anchor="middle" font-weight="normal" font-style="normal" fill="#3a6ab0" opacity="0.45">C</text>
<text x="309.34999999999997" y="512.4" font-size="3.6" text-anchor="middle" font-weight="normal" font-style="normal" fill="#3a9a3a" opacity="0.45">A</text>
<text x="322.5" y="512.4" font-size="3.6" text-anchor="middle" font-weight="normal" font-style="normal" fill="#c08030" opacity="0.45">G</text>
<text x="335.65" y="512.4" font-size="3.6" text-anchor="middle" font-weight="normal" font-style="normal" fill="#c08030" opacity="0.45">G</text>
<text x="348.8" y="512.4" font-size="3.6" text-anchor="middle" font-weight="normal" font-style="normal" fill="#c04040" opacity="0.45">T</text>
<text x="361.95" y="512.4" font-size="3.6" text-anchor="middle" font-weight="normal" font-style="normal" fill="#3a9a3a" opacity="0.45">A</text>
<text x="375.1" y="512.4" font-size="3.6" text-anchor="middle" font-weight="normal" font-style="normal" fill="#c04040" opacity="0.45">T</text>
<text x="388.25" y="512.4" font-size="3.6" text-anchor="middle" font-weight="normal" font-style="normal" fill="#c08030" opacity="0.45">G</text>
<text x="401.4" y="512.4" font-size="3.6" text-anchor="middle" font-weight="normal" font-style="normal" fill="#c04040" opacity="0.45">T</text>
<text x="414.55" y="512.4" font-size="3.6" text-anchor="middle" font-weight="normal" font-style="normal" fill="#3a6ab0" opacity="0.45">C</text>
<text x="427.7" y="512.4" font-size="3.6" text-anchor="middle" font-weight="normal" font-style="normal" fill="#3a9a3a" opacity="0.45">A</text>
<text x="440.85" y="512.4" font-size="3.6" text-anchor="middle" font-weight="normal" font-style="normal" fill="#c08030" opacity="0.45">G</text>
<text x="454.0" y="512.4" font-size="3.6" text-anchor="middle" font-weight="normal" font-style="normal" fill="#3a6ab0" opacity="0.45">C</text>
<text x="467.15" y="512.4" font-size="3.6" text-anchor="middle" font-weight="normal" font-style="normal" fill="#c04040" opacity="0.45">T</text>
<text x="480.29999999999995" y="512.4" font-size="3.6" text-anchor="middle" font-weight="normal" font-style="normal" fill="#c04040" opacity="0.45">T</text>
<text x="493.45" y="512.4" font-size="3.6" text-anchor="middle" font-weight="normal" font-style="normal" fill="#3a9a3a" opacity="0.45">A</text>
<text x="506.6" y="512.4" font-size="3.6" text-anchor="middle" font-weight="normal" font-style="normal" fill="#c08030" opacity="0.45">G</text>
<rect x="290" y="515.9" width="66.5" height="1.7" fill="#1c2170"/>
<rect x="356.3" y="514.8" width="39.5" height="3.6" fill="#52a84a"/>
<rect x="395.8" y="514.8" width="18.2" height="3.6" fill="#1c2170"/>
<rect x="416.0" y="514.8" width="18.6" height="3.6" fill="#1c2170"/>
<rect x="434.6" y="514.8" width="40.4" height="3.6" fill="#acb0dc"/>
<rect x="475.0" y="514.8" width="38.0" height="3.6" fill="#1c2170"/>
<rect x="375.1" y="515.6" width="1" height="2" fill="#fff" opacity="0.7"/>
<rect x="453.7" y="515.6" width="1" height="2" fill="#fff" opacity="0.7"/>
<rect x="493.9" y="515.6" width="1" height="2" fill="#fff" opacity="0.7"/>
<rect x="0.5" y="0.5" width="519" height="528" fill="none" stroke="#000" stroke-width="1"/>
</svg>
</body></html>
